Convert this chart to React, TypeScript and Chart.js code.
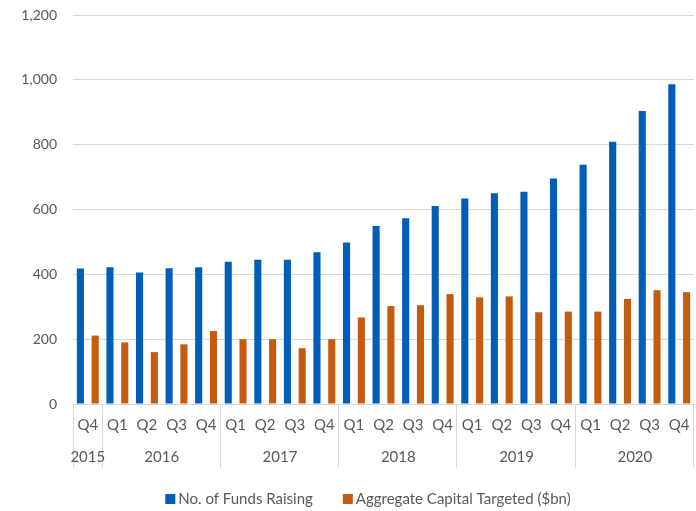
import React, { useEffect, useRef } from "react";
import { Chart, registerables } from "chart.js";

Chart.register(...registerables);

const quarters = [
  "Q4",
  "Q1", "Q2", "Q3", "Q4",
  "Q1", "Q2", "Q3", "Q4",
  "Q1", "Q2", "Q3", "Q4",
  "Q1", "Q2", "Q3", "Q4",
  "Q1", "Q2", "Q3", "Q4",
];
const years = ["2015", "2016", "2017", "2018", "2019", "2020"];
const yearSpans = [1, 4, 4, 4, 4, 4];

const fundsRaising = [
  418, 422, 406, 419, 422, 439, 445, 445, 468, 498, 549, 573, 611, 634, 650, 655, 696, 738, 809, 904, 986,
];
const capitalTargeted = [
  211, 190, 160, 184, 225, 200, 200, 172, 200, 267, 302, 305, 339, 329, 332, 283, 285, 285, 324, 351, 345,
];

const yTicks = [0, 200, 400, 600, 800, 1000, 1200];

const FONT = "Lato, 'Open Sans', sans-serif";
const TEXT = "#595959";
const GRID = "#d9d9d9";
const BLUE = "#005EB8";
const ORANGE = "#C55A11";

const yearAxisPlugin = {
  id: "yearAxis",
  afterDraw(chart: any) {
    const { ctx, chartArea } = chart;
    const x = chart.scales.x;
    const n = quarters.length;
    const cw = (x.right - x.left) / n;
    const top = chartArea.bottom;
    const bottom = top + 64;
    ctx.save();
    ctx.strokeStyle = GRID;
    ctx.lineWidth = 1;
    ctx.fillStyle = TEXT;
    ctx.font = `15px ${FONT}`;
    ctx.textAlign = "center";
    ctx.textBaseline = "middle";
    let idx = 0;
    const drawLine = (px: number) => {
      const xx = Math.round(px) + 0.5;
      ctx.beginPath();
      ctx.moveTo(xx, top);
      ctx.lineTo(xx, bottom);
      ctx.stroke();
    };
    drawLine(x.getPixelForValue(0) - cw / 2);
    years.forEach((yr, i) => {
      const start = idx;
      const end = idx + yearSpans[i] - 1;
      const left = x.getPixelForValue(start) - cw / 2;
      const right = x.getPixelForValue(end) + cw / 2;
      drawLine(right - 1);
      ctx.fillText(yr, (left + right) / 2, top + 53);
      idx += yearSpans[i];
    });
    ctx.restore();
  },
};

const legendPlugin = {
  id: "customLegend",
  afterDraw(chart: any) {
    const { ctx } = chart;
    const ds = chart.data.datasets;
    ctx.save();
    ctx.font = `15px ${FONT}`;
    ctx.textBaseline = "middle";
    ctx.textAlign = "left";
    const box = 10;
    const gapText = 3;
    const gapItem = 30;
    const widths = ds.map((d: any) => box + gapText + ctx.measureText(d.label).width);
    const total = widths.reduce((a: number, b: number) => a + b, 0) + gapItem * (ds.length - 1);
    let cx = 368 - total / 2;
    const cy = 499;
    ds.forEach((d: any, i: number) => {
      ctx.fillStyle = d.backgroundColor;
      ctx.fillRect(cx, cy - box / 2, box, box);
      ctx.fillStyle = TEXT;
      ctx.fillText(d.label, cx + box + gapText, cy);
      cx += widths[i] + gapItem;
    });
    ctx.restore();
  },
};

export default function App() {
  const ref = useRef<HTMLCanvasElement | null>(null);
  useEffect(() => {
    document.body.style.margin = "0";
    if (!ref.current) return;
    const chart = new Chart(ref.current, {
      type: "bar",
      data: {
        labels: quarters,
        datasets: [
          {
            label: "No. of Funds Raising",
            data: fundsRaising,
            backgroundColor: BLUE,
            categoryPercentage: 1.0,
            barPercentage: 0.48,
          },
          {
            label: "Aggregate Capital Targeted ($bn)",
            data: capitalTargeted,
            backgroundColor: ORANGE,
            categoryPercentage: 1.0,
            barPercentage: 0.48,
          },
        ],
      },
      options: {
        animation: false,
        responsive: false,
        maintainAspectRatio: false,
        layout: { padding: { top: 15, right: 2, bottom: 0, left: 0 } },
        plugins: {
          legend: { display: false },
          tooltip: { enabled: false },
        },
        scales: {
          x: {
            grid: { display: false, drawTicks: true, tickLength: 12, tickColor: "rgba(0,0,0,0)" },
            border: { display: true, color: GRID },
            ticks: {
              color: TEXT,
              font: { family: FONT, size: 15 },
              padding: 0,
              maxRotation: 0,
              autoSkip: false,
            },
            afterFit: (s: any) => {
              s.height = 107;
            },
          },
          y: {
            min: 0,
            max: 1200,
            afterBuildTicks: (s: any) => {
              s.ticks = yTicks.map((v) => ({ value: v }));
            },
            grid: { color: GRID, lineWidth: 1, drawTicks: true, tickLength: 16, tickColor: "rgba(0,0,0,0)" },
            border: { display: false },
            ticks: {
              color: TEXT,
              font: { family: FONT, size: 14 },
              padding: 0,
              callback: (v: any) => Number(v).toLocaleString("en-US"),
            },
            afterFit: (s: any) => {
              s.width = 73;
            },
          },
        },
      },
      plugins: [yearAxisPlugin, legendPlugin],
    });
    return () => chart.destroy();
  }, []);
  return (
    <div style={{ width: 696, height: 511 }}>
      <canvas ref={ref} width={696} height={511} style={{ display: "block" }} />
    </div>
  );
}
